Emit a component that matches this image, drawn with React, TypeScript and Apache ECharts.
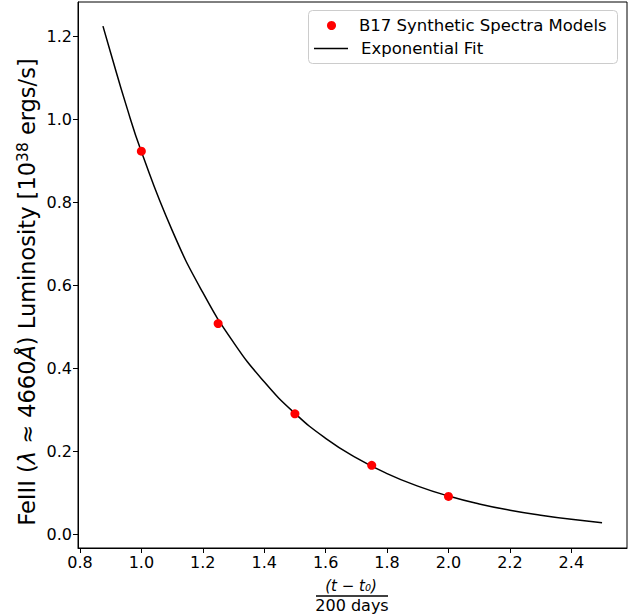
import React, { useEffect, useRef } from "react";
import * as echarts from "echarts";

const modelX = [1.0, 1.25, 1.5, 1.75, 2.0];
const modelY = [0.923, 0.508, 0.291, 0.167, 0.092];

const fitX = [0.875, 0.9, 0.95, 1.0, 1.1, 1.2, 1.3, 1.4, 1.5, 1.6, 1.7, 1.8, 1.9, 2.0, 2.1, 2.2, 2.3, 2.4, 2.5];
const fitY = [1.224, 1.16, 1.035, 0.922, 0.733, 0.583, 0.463, 0.368, 0.292, 0.232, 0.185, 0.147, 0.117, 0.093, 0.074, 0.059, 0.047, 0.037, 0.029];

const xTicks = [0.8, 1.0, 1.2, 1.4, 1.6, 1.8, 2.0, 2.2, 2.4];
const yTicks = [0.0, 0.2, 0.4, 0.6, 0.8, 1.0, 1.2];

const FONT = "DejaVu Sans";
const LBL = 22.5;

export default function App() {
  const ref = useRef<HTMLDivElement>(null);
  useEffect(() => {
    const chart = echarts.init(ref.current!, null, { renderer: "svg" });
    chart.setOption({
      animation: false,
      backgroundColor: "#fff",
      textStyle: { fontFamily: FONT },
      grid: {
        left: 78,
        top: 2,
        width: 549,
        height: 546,
        show: true,
        borderColor: "#000",
        borderWidth: 1,
        containLabel: false,
      },
      legend: [
        {
          left: 327,
          top: 17,
          padding: 0,
          z: 20,
          itemWidth: 9,
          itemHeight: 9,
          textStyle: { fontFamily: FONT, fontSize: 16.5, color: "#000", padding: [0, 0, 0, 18] },
          data: [{ name: "B17 Synthetic Spectra Models", icon: "circle", itemStyle: { color: "#ff0000", opacity: 1 } }],
        },
        {
          left: 314,
          top: 40,
          padding: 0,
          z: 20,
          itemWidth: 34,
          itemHeight: 1.5,
          textStyle: { fontFamily: FONT, fontSize: 16.5, color: "#000", padding: [0, 0, 0, 8] },
          data: [{ name: "Exponential Fit", icon: "rect" }],
        },
      ],
      xAxis: {
        type: "value",
        min: 0.79375,
        max: 2.58125,
        splitLine: { show: false },
        axisLine: { show: true, onZero: false, lineStyle: { color: "#000", width: 1 } },
        axisTick: { show: true, length: 5, customValues: xTicks, lineStyle: { color: "#000" } },
        axisLabel: {
          customValues: xTicks,
          formatter: (v: number) => v.toFixed(1),
          fontFamily: FONT,
          fontSize: 16,
          color: "#000",
          margin: 6,
        },
      },
      yAxis: {
        type: "value",
        min: -0.032,
        max: 1.282,
        splitLine: { show: false },
        axisLine: { show: true, onZero: false, lineStyle: { color: "#000", width: 1 } },
        axisTick: { show: true, length: 5, customValues: yTicks, lineStyle: { color: "#000" } },
        axisLabel: {
          customValues: yTicks,
          formatter: (v: number) => v.toFixed(1),
          fontFamily: FONT,
          fontSize: 16,
          color: "#000",
          margin: 6,
        },
      },
      graphic: [
        {
          type: "rect",
          z: 1,
          shape: { x: 308.5, y: 10.5, width: 309, height: 53, r: 4 },
          style: { fill: "#fff", stroke: "#ccc", lineWidth: 1 },
        },
        {
          type: "text",
          x: 27,
          y: 292,
          rotation: Math.PI / 2,
          style: {
            text: "{n|FeIII (}{i|λ}{n| ≈ 4660}{i|Å}{n|) Luminosity [10}{sup|38}{n| ergs/s]}",
            fontFamily: FONT,
            fontSize: LBL,
            fill: "#000",
            align: "center",
            verticalAlign: "middle",
            rich: {
              n: { fontFamily: FONT, fontSize: LBL, fill: "#000" },
              i: { fontFamily: FONT, fontSize: LBL, fontStyle: "italic", fill: "#000" },
              sup: { fontFamily: FONT, fontSize: 15.5, fill: "#000", verticalAlign: "top", padding: [0, 0, 9, 0] },
            },
          },
        },
        {
          type: "text",
          x: 351,
          y: 586,
          style: {
            text: "(t − t₀)",
            fontFamily: FONT,
            fontSize: 15,
            fontStyle: "italic",
            fill: "#000",
            align: "center",
            verticalAlign: "middle",
          },
        },
        {
          type: "line",
          shape: { x1: 316, y1: 596, x2: 388, y2: 596 },
          style: { stroke: "#000", lineWidth: 1.5 },
        },
        {
          type: "text",
          x: 352,
          y: 605,
          style: {
            text: "200 days",
            fontFamily: FONT,
            fontSize: 16,
            fill: "#000",
            align: "center",
            verticalAlign: "middle",
          },
        },
      ],
      series: [
        {
          name: "Exponential Fit",
          type: "line",
          data: fitX.map((x, i) => [x, fitY[i]]),
          smooth: true,
          symbol: "none",
          lineStyle: { color: "#000", width: 1.5 },
          itemStyle: { color: "#000" },
          z: 2,
        },
        {
          name: "B17 Synthetic Spectra Models",
          type: "scatter",
          data: modelX.map((x, i) => [x, modelY[i]]),
          symbol: "circle",
          symbolSize: 9,
          itemStyle: { color: "#ff0000", opacity: 1 },
          z: 3,
        },
      ],
    });
    return () => chart.dispose();
  }, []);
  return (
    <div
      ref={ref}
      style={{ position: "absolute", left: 0, top: 0, width: 635, height: 616 }}
    />
  );
}
